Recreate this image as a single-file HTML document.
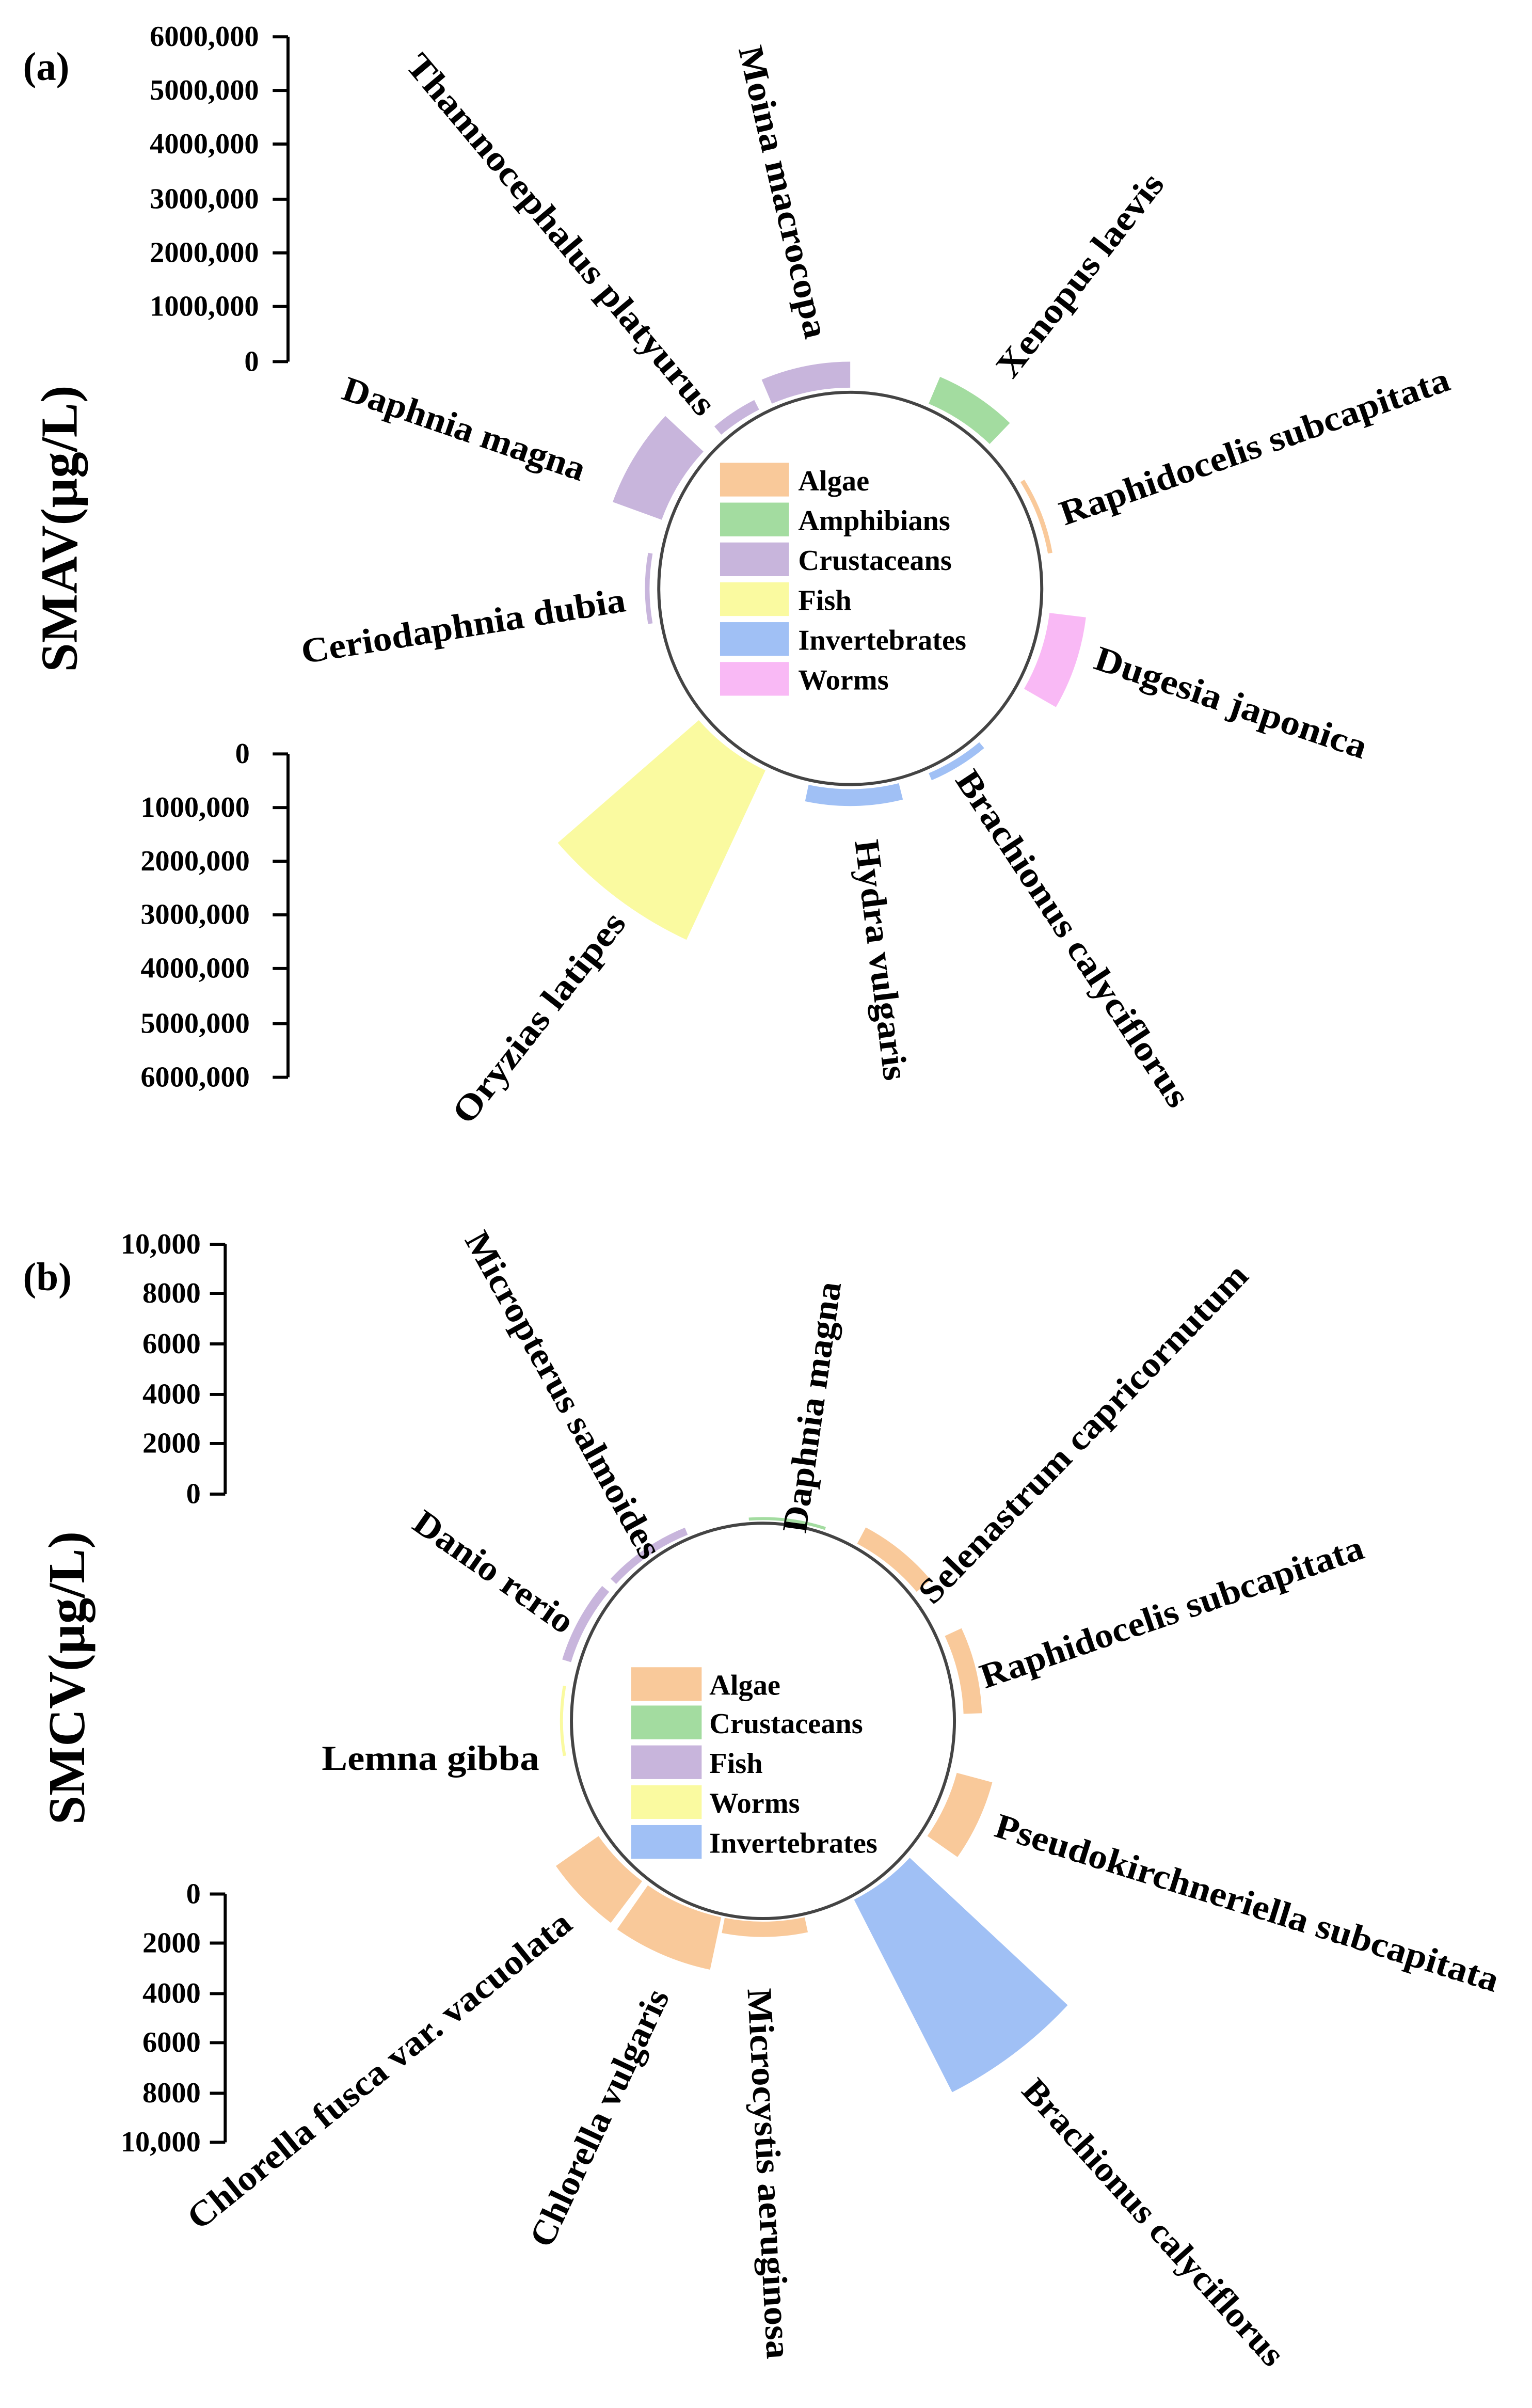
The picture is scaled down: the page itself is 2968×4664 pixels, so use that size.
<!DOCTYPE html>
<html><head><meta charset="utf-8"><style>
html,body{margin:0;padding:0;background:#fff;}
svg{display:block;}
text{font-family:"Liberation Serif",serif;font-weight:bold;fill:#000;}
.l{font-size:23px;}
.t{font-size:19px;text-anchor:end;}
.g{font-size:19px;}
.s{fill:none;}
</style></head><body>
<svg width="2968" height="4664" viewBox="0 0 1000 1571.4" preserveAspectRatio="none" xmlns="http://www.w3.org/2000/svg">
<!-- Panel a -->
<text x="15" y="52" style="font-size:26px">(a)</text>
<text transform="translate(50,345) rotate(-90)" text-anchor="middle" style="font-size:34px">SMAV(µg/L)</text>
<g stroke="#000" stroke-width="2" fill="none">
<path d="M188 24V236M178 24H188M178 59H188M178 94H188M178 130H188M178 165H188M178 200H188M178 236H188"/>
<path d="M188 492V703M178 492H188M178 527H188M178 562H188M178 597H188M178 632H188M178 668H188M178 703H188"/>
</g>
<text class="t" x="169" y="30">6000,000</text>
<text class="t" x="169" y="65">5000,000</text>
<text class="t" x="169" y="100">4000,000</text>
<text class="t" x="169" y="136">3000,000</text>
<text class="t" x="169" y="171">2000,000</text>
<text class="t" x="169" y="206">1000,000</text>
<text class="t" x="169" y="242">0</text>
<text class="t" x="163" y="498">0</text>
<text class="t" x="163" y="533">1000,000</text>
<text class="t" x="163" y="568">2000,000</text>
<text class="t" x="163" y="603">3000,000</text>
<text class="t" x="163" y="638">4000,000</text>
<text class="t" x="163" y="674">5000,000</text>
<text class="t" x="163" y="709">6000,000</text>

<g class="s">
<circle cx="555" cy="384" r="139.5" stroke-width="17" stroke="#c8b5dc" pathLength="360" stroke-dasharray="23 999" transform="rotate(-113 555 384)"/>
<circle cx="555" cy="384" r="134.5" stroke-width="7" stroke="#c8b5dc" pathLength="360" stroke-dasharray="13 999" transform="rotate(-130 555 384)"/>
<circle cx="555" cy="384" r="148" stroke-width="34" stroke="#c8b5dc" pathLength="360" stroke-dasharray="23 999" transform="rotate(-160 555 384)"/>
<circle cx="555" cy="384" r="132.5" stroke-width="3" stroke="#c8b5dc" pathLength="360" stroke-dasharray="20 999" transform="rotate(-190 555 384)"/>
<circle cx="555" cy="384" r="192" stroke-width="122" stroke="#fafaa0" pathLength="360" stroke-dasharray="24 999" transform="rotate(115 555 384)"/>
<circle cx="555" cy="384" r="136.5" stroke-width="11" stroke="#a0c0f5" pathLength="360" stroke-dasharray="26 999" transform="rotate(76 555 384)"/>
<circle cx="555" cy="384" r="133.5" stroke-width="5" stroke="#a0c0f5" pathLength="360" stroke-dasharray="17 999" transform="rotate(50 555 384)"/>
<circle cx="555" cy="384" r="143" stroke-width="24" stroke="#f9b9f5" pathLength="360" stroke-dasharray="23 999" transform="rotate(7 555 384)"/>
<circle cx="555" cy="384" r="132.5" stroke-width="3" stroke="#f9c99a" pathLength="360" stroke-dasharray="22 999" transform="rotate(-32 555 384)"/>
<circle cx="555" cy="384" r="140.5" stroke-width="19" stroke="#a3dca0" pathLength="360" stroke-dasharray="21 999" transform="rotate(-67 555 384)"/>
</g>
<ellipse cx="555" cy="384" rx="125" ry="128" fill="none" stroke="#444" stroke-width="2"/>
<rect x="470" y="302" width="45" height="22" fill="#f9c99a"/>
<rect x="470" y="328" width="45" height="22" fill="#a3dca0"/>
<rect x="470" y="354" width="45" height="22" fill="#c8b5dc"/>
<rect x="470" y="380" width="45" height="22" fill="#fafaa0"/>
<rect x="470" y="406" width="45" height="22" fill="#a0c0f5"/>
<rect x="470" y="432" width="45" height="22" fill="#f9b9f5"/>
<text class="g" x="521" y="320">Algae</text>
<text class="g" x="521" y="346">Amphibians</text>
<text class="g" x="521" y="372">Crustaceans</text>
<text class="g" x="521" y="398">Fish</text>
<text class="g" x="521" y="424">Invertebrates</text>
<text class="g" x="521" y="450">Worms</text>

<text class="l" transform="translate(264,43) rotate(50)" textLength="300" lengthAdjust="spacingAndGlyphs">Thamnocephalus platyurus</text>
<text class="l" transform="translate(482,32) rotate(77)" textLength="195" lengthAdjust="spacingAndGlyphs">Moina macrocopa</text>
<text class="l" transform="translate(661,248) rotate(-52)" textLength="162" lengthAdjust="spacingAndGlyphs">Xenopus laevis</text>
<text class="l" transform="translate(695,343) rotate(-19.4)" textLength="268" lengthAdjust="spacingAndGlyphs">Raphidocelis subcapitata</text>
<text class="l" transform="translate(713,436) rotate(18.6)" textLength="186" lengthAdjust="spacingAndGlyphs">Dugesia japonica</text>
<text class="l" transform="translate(623,509) rotate(56.6)" textLength="258" lengthAdjust="spacingAndGlyphs">Brachionus calyciflorus</text>
<text class="l" transform="translate(558,549) rotate(83)" textLength="158" lengthAdjust="spacingAndGlyphs">Hydra vulgaris</text>
<text class="l" transform="translate(306,735) rotate(-52)" textLength="168" lengthAdjust="spacingAndGlyphs">Oryzias latipes</text>
<text class="l" transform="translate(198,433) rotate(-9.2)" textLength="214" lengthAdjust="spacingAndGlyphs">Ceriodaphnia dubia</text>
<text class="l" transform="translate(222,260) rotate(19)" textLength="166" lengthAdjust="spacingAndGlyphs">Daphnia magna</text>

<!-- Panel b -->
<text x="15" y="842" style="font-size:26px">(b)</text>
<text transform="translate(55,1095) rotate(-90)" text-anchor="middle" style="font-size:34px">SMCV(µg/L)</text>
<g stroke="#000" stroke-width="2" fill="none">
<path d="M147 812V975M137 812H147M137 844H147M137 877H147M137 910H147M137 942H147M137 975H147"/>
<path d="M147 1236V1398M137 1236H147M137 1268H147M137 1301H147M137 1333H147M137 1366H147M137 1398H147"/>
</g>
<text class="t" x="131" y="818">10,000</text>
<text class="t" x="131" y="850">8000</text>
<text class="t" x="131" y="883">6000</text>
<text class="t" x="131" y="916">4000</text>
<text class="t" x="131" y="948">2000</text>
<text class="t" x="131" y="981">0</text>
<text class="t" x="131" y="1242">0</text>
<text class="t" x="131" y="1274">2000</text>
<text class="t" x="131" y="1307">4000</text>
<text class="t" x="131" y="1339">6000</text>
<text class="t" x="131" y="1372">8000</text>
<text class="t" x="131" y="1404">10,000</text>

<g class="s">
<circle cx="498" cy="1123" r="133.5" stroke-width="5" stroke="#c8b5dc" pathLength="360" stroke-dasharray="25 999" transform="rotate(-137 498 1123)"/>
<circle cx="498" cy="1123" r="134" stroke-width="6" stroke="#c8b5dc" pathLength="360" stroke-dasharray="23 999" transform="rotate(-163 498 1123)"/>
<circle cx="498" cy="1123" r="132" stroke-width="2" stroke="#a3dca0" pathLength="360" stroke-dasharray="22 999" transform="rotate(-94 498 1123)"/>
<circle cx="498" cy="1123" r="137" stroke-width="12" stroke="#f9c99a" pathLength="360" stroke-dasharray="22 999" transform="rotate(-62 498 1123)"/>
<circle cx="498" cy="1123" r="137" stroke-width="12" stroke="#f9c99a" pathLength="360" stroke-dasharray="23 999" transform="rotate(-25 498 1123)"/>
<circle cx="498" cy="1123" r="143" stroke-width="24" stroke="#f9c99a" pathLength="360" stroke-dasharray="20 999" transform="rotate(15 498 1123)"/>
<circle cx="498" cy="1123" r="201.5" stroke-width="141" stroke="#a0c0f5" pathLength="360" stroke-dasharray="20 999" transform="rotate(43 498 1123)"/>
<circle cx="498" cy="1123" r="136" stroke-width="10" stroke="#f9c99a" pathLength="360" stroke-dasharray="23 999" transform="rotate(78 498 1123)"/>
<circle cx="498" cy="1123" r="148.5" stroke-width="35" stroke="#f9c99a" pathLength="360" stroke-dasharray="23 999" transform="rotate(102 498 1123)"/>
<circle cx="498" cy="1123" r="148" stroke-width="34" stroke="#f9c99a" pathLength="360" stroke-dasharray="18 999" transform="rotate(127 498 1123)"/>
<circle cx="498" cy="1123" r="131.5" stroke-width="2" stroke="#fafaa0" pathLength="360" stroke-dasharray="20 999" transform="rotate(170 498 1123)"/>
</g>
<ellipse cx="498" cy="1123" rx="125" ry="129" fill="none" stroke="#444" stroke-width="2"/>
<rect x="412" y="1088" width="46" height="22" fill="#f9c99a"/>
<rect x="412" y="1113" width="46" height="22" fill="#a3dca0"/>
<rect x="412" y="1139" width="46" height="22" fill="#c8b5dc"/>
<rect x="412" y="1165" width="46" height="22" fill="#fafaa0"/>
<rect x="412" y="1191" width="46" height="22" fill="#a0c0f5"/>
<text class="g" x="463" y="1106">Algae</text>
<text class="g" x="463" y="1131">Crustaceans</text>
<text class="g" x="463" y="1157">Fish</text>
<text class="g" x="463" y="1183">Worms</text>
<text class="g" x="463" y="1209">Invertebrates</text>

<text class="l" transform="translate(303,809) rotate(61)" textLength="240" lengthAdjust="spacingAndGlyphs">Micropterus salmoides</text>
<text class="l" transform="translate(526,1001) rotate(-82)" textLength="165" lengthAdjust="spacingAndGlyphs">Daphnia magna</text>
<text class="l" transform="translate(609,1048) rotate(-46)" textLength="298" lengthAdjust="spacingAndGlyphs">Selenastrum capricornutum</text>
<text class="l" transform="translate(643,1102) rotate(-19)" textLength="263" lengthAdjust="spacingAndGlyphs">Raphidocelis subcapitata</text>
<text class="l" x="210" y="1155" textLength="142" lengthAdjust="spacingAndGlyphs">Lemna gibba</text>
<text class="l" transform="translate(268,997) rotate(35)" textLength="122" lengthAdjust="spacingAndGlyphs">Danio rerio</text>
<text class="l" transform="translate(648,1198) rotate(17.3)" textLength="343" lengthAdjust="spacingAndGlyphs">Pseudokirchneriella subcapitata</text>
<text class="l" transform="translate(666,1365) rotate(48)" textLength="243" lengthAdjust="spacingAndGlyphs">Brachionus calyciflorus</text>
<text class="l" transform="translate(488,1298) rotate(87)" textLength="242" lengthAdjust="spacingAndGlyphs">Microcystis aeruginosa</text>
<text class="l" transform="translate(359,1468) rotate(-64.7)" textLength="183" lengthAdjust="spacingAndGlyphs">Chlorella vulgaris</text>
<text class="l" transform="translate(130,1456) rotate(-39)" textLength="315" lengthAdjust="spacingAndGlyphs">Chlorella fusca var. vacuolata</text>
</svg>
</body></html>
